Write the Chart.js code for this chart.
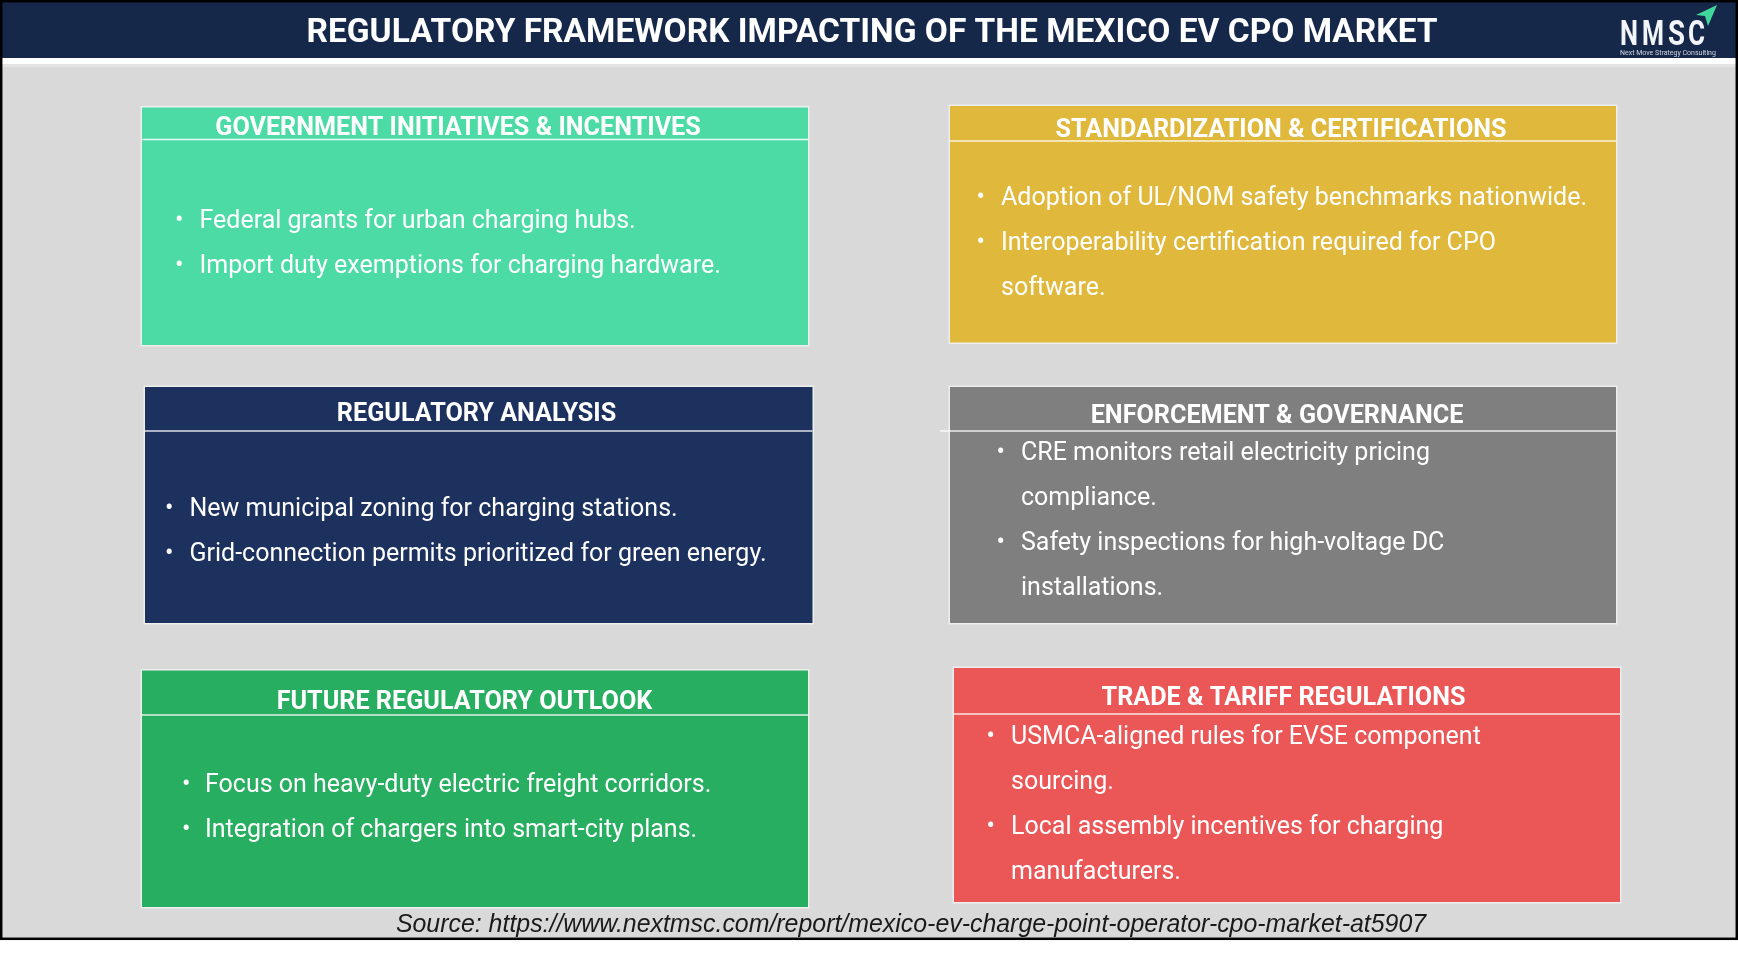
<!DOCTYPE html>
<html><head><meta charset="utf-8">
<script src="https://cdn.jsdelivr.net/npm/chart.js@4.4.1/dist/chart.umd.min.js"></script>
<style>html,body{margin:0;padding:0;background:#fff;overflow:hidden}canvas{display:block}</style>
</head><body><canvas id="c" width="1738" height="953"></canvas>
<script>
// ---- data (text content) ----
const chartTitle = "REGULATORY FRAMEWORK IMPACTING OF THE MEXICO EV CPO MARKET";
const sourceText = "Source: https://www.nextmsc.com/report/mexico-ev-charge-point-operator-cpo-market-at5907";
const logoText = "NMSC";
const logoSub = "Next Move Strategy Consulting";
const panelTitles = [
  "GOVERNMENT INITIATIVES & INCENTIVES",
  "STANDARDIZATION & CERTIFICATIONS",
  "REGULATORY ANALYSIS",
  "ENFORCEMENT & GOVERNANCE",
  "FUTURE REGULATORY OUTLOOK",
  "TRADE & TARIFF REGULATIONS"
];
const panelBullets = [
  [["Federal grants for urban charging hubs."], ["Import duty exemptions for charging hardware."]],
  [["Adoption of UL/NOM safety benchmarks nationwide."], ["Interoperability certification required for CPO", "software."]],
  [["New municipal zoning for charging stations."], ["Grid-connection permits prioritized for green energy."]],
  [["CRE monitors retail electricity pricing", "compliance."], ["Safety inspections for high-voltage DC", "installations."]],
  [["Focus on heavy-duty electric freight corridors."], ["Integration of chargers into smart-city plans."]],
  [["USMCA-aligned rules for EVSE component", "sourcing."], ["Local assembly incentives for charging", "manufacturers."]]
];

// ---- styles ----
const panelColors = ["#4cdba5", "#e0b83b", "#1c315e", "#7f7f7f", "#27ae60", "#eb5757"];
const style = {
  bg: "#d9d9d9", titleBar: "#15284a", text: "#ffffff", source: "#1a1a1a",
  titleFont: "bold 33.5px Roboto", headFont: "bold 25.2px Roboto", bodyFont: "25px Roboto",
  sourceFont: "italic 24.9px 'Liberation Sans'", lineGap: 45
};
// ---- layout (pixel positions) ----
const panelLayout = [
  {x0:142, y0:107.5, x1:808, y1:345, hb:139.5, hx:458, hy:128.8, dx:175, tx:199.5, ly:221.8},
  {x0:950, y0:106, x1:1616, y1:342.5, hb:141, hx:1281, hy:130.8, dx:976.5, tx:1001, ly:198.3},
  {x0:145, y0:387, x1:812.5, y1:623, hb:431, hx:476.5, hy:414.3, dx:165, tx:189.5, ly:509.8},
  {x0:950, y0:387, x1:1616, y1:623, hb:431, hx:1277, hy:416.8, dx:996.5, tx:1021, ly:453.3, lineX0:940},
  {x0:142, y0:670.5, x1:808, y1:907, hb:715, hx:464.5, hy:702.8, dx:182, tx:205, ly:785.8},
  {x0:954, y0:668, x1:1620, y1:902, hb:714, hx:1283.5, hy:698.3, dx:986.5, tx:1011, ly:737.3}
];
const logoLetterBoxes = [[1620, 1638], [1642, 1664], [1668, 1685], [1688, 1705]];
const W = 1738, H = 953;

const infographic = {
  id: 'infographic',
  beforeDraw(chart) {
    const ctx = chart.ctx;
    const xs = chart.scales.x, ys = chart.scales.y;
    const X = v => xs.getPixelForValue(v);
    const Y = v => ys.getPixelForValue(v);
    ctx.save();
    // page
    ctx.fillStyle = "#ffffff"; ctx.fillRect(X(0), Y(0), X(W) - X(0), Y(H) - Y(0));
    ctx.fillStyle = style.bg; ctx.fillRect(X(0), Y(64), X(W) - X(0), Y(940) - Y(64));
    ctx.fillStyle = "#e4e4e4"; ctx.fillRect(X(0), Y(64), X(W) - X(0), Y(67) - Y(64));
    ctx.fillStyle = style.titleBar; ctx.fillRect(X(0), Y(0), X(W) - X(0), Y(58) - Y(0));
    // border
    ctx.strokeStyle = "#000"; ctx.lineWidth = 2.5;
    ctx.strokeRect(X(1.2), Y(1.2), X(1736.8) - X(1.2), Y(938.8) - Y(1.2));
    // title
    ctx.fillStyle = style.text; ctx.font = style.titleFont;
    ctx.textAlign = "center"; ctx.textBaseline = "middle";
    ctx.fillText(chartTitle, X(872), Y(34));
    // logo
    ctx.font = "bold 35px Roboto"; ctx.textAlign = "left"; ctx.textBaseline = "alphabetic";
    ctx.fillStyle = "#f2f4f7";
    logoText.split("").forEach((ch, k) => {
      const b = logoLetterBoxes[k];
      const cw = ctx.measureText(ch).width;
      ctx.save();
      ctx.translate(X(b[0]), Y(45));
      ctx.scale((b[1] - b[0]) / cw, 1);
      ctx.fillText(ch, 0, 0);
      ctx.restore();
    });
    ctx.fillStyle = "#3fd89a";
    ctx.beginPath();
    ctx.moveTo(X(1717), Y(5)); ctx.lineTo(X(1696), Y(15)); ctx.lineTo(X(1705), Y(16));
    ctx.lineTo(X(1708), Y(26)); ctx.closePath(); ctx.fill();
    ctx.fillStyle = "#d0d6e0"; ctx.font = "7px Roboto"; ctx.textBaseline = "middle";
    ctx.fillText(logoSub, X(1620), Y(53));
    // panels
    panelLayout.forEach((p, i) => {
      ctx.fillStyle = "rgba(255,255,255,0.55)";
      ctx.fillRect(X(p.x0 - 1.5), Y(p.y0 - 1.5), X(p.x1 + 1.5) - X(p.x0 - 1.5), Y(p.y1 + 1.5) - Y(p.y0 - 1.5));
      ctx.fillStyle = panelColors[i];
      ctx.fillRect(X(p.x0), Y(p.y0), X(p.x1) - X(p.x0), Y(p.y1) - Y(p.y0));
      ctx.strokeStyle = "rgba(255,255,255,0.85)"; ctx.lineWidth = 1.5;
      ctx.beginPath();
      ctx.moveTo(X(p.lineX0 !== undefined ? p.lineX0 : p.x0), Y(p.hb));
      ctx.lineTo(X(p.x1), Y(p.hb)); ctx.stroke();
      ctx.fillStyle = style.text; ctx.textBaseline = "middle";
      ctx.font = style.headFont; ctx.textAlign = "center";
      ctx.fillText(panelTitles[i], X(p.hx), Y(p.hy));
      ctx.font = style.bodyFont; ctx.textAlign = "left";
      let line = 0;
      panelBullets[i].forEach(item => {
        item.forEach((t, k) => {
          const yy = Y(p.ly + line * style.lineGap);
          if (k === 0) ctx.fillText("\u2022", X(p.dx), yy);
          ctx.fillText(t, X(p.tx), yy);
          line++;
        });
      });
    });
    // source
    ctx.fillStyle = style.source; ctx.font = style.sourceFont; ctx.textAlign = "center";
    ctx.fillText(sourceText, X(911), Y(925.3));
    ctx.restore();
  }
};

new Chart(document.getElementById('c'), {
  type: 'scatter',
  data: { datasets: [{ data: [], pointRadius: 0 }] },
  options: {
    responsive: false, animation: false, devicePixelRatio: 1,
    layout: { padding: 0 },
    plugins: { legend: { display: false }, tooltip: { enabled: false }, title: { display: false } },
    scales: {
      x: { type: 'linear', min: 0, max: W, display: false },
      y: { type: 'linear', min: 0, max: H, reverse: true, display: false }
    }
  },
  plugins: [infographic]
});
</script>
</body></html>
